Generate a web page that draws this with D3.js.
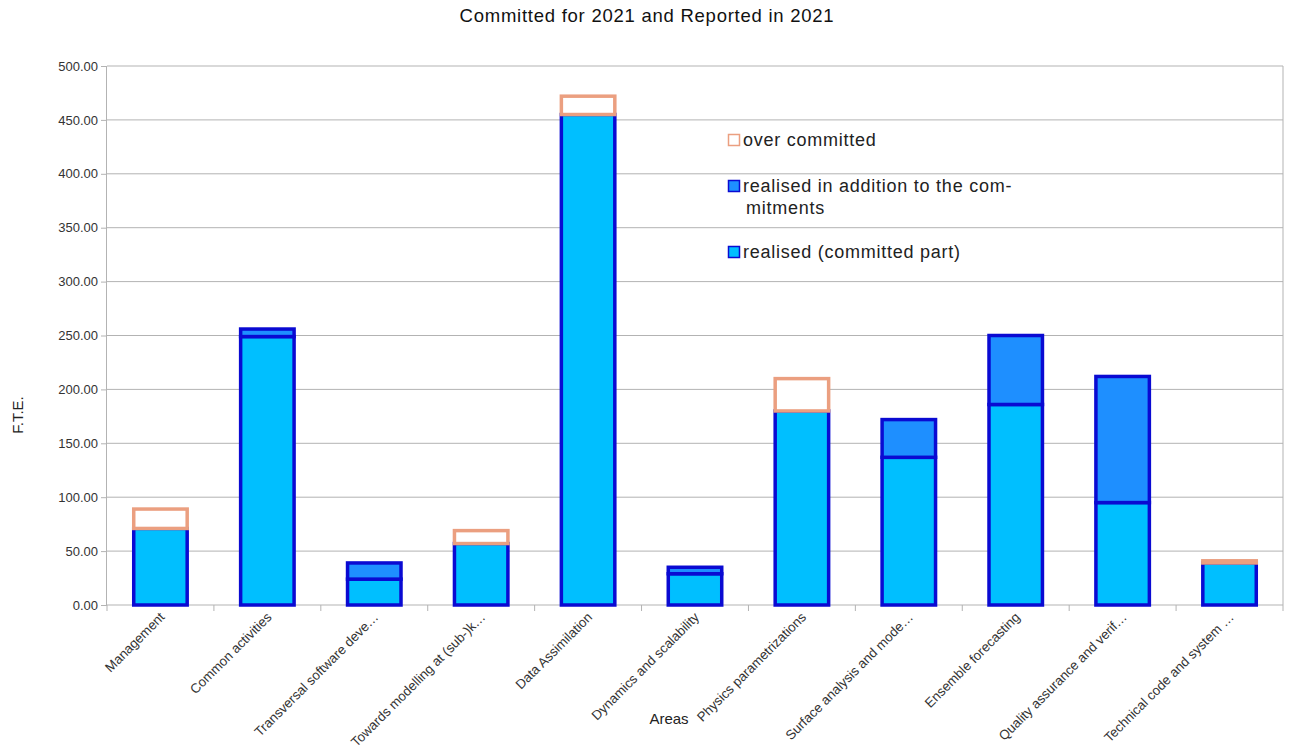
<!DOCTYPE html>
<html><head><meta charset="utf-8">
<script src="https://cdn.jsdelivr.net/npm/d3@7"></script>
<style>body{margin:0;background:#fff}svg{display:block;font-family:"Liberation Sans",Arial,sans-serif}</style>
</head><body><svg id="c" width="1292" height="749"></svg>
<script>
const categories = ["Management","Common activities","Transversal software deve\u2026","Towards modelling at (sub-)k\u2026","Data Assimilation","Dynamics and scalability","Physics parametrizations","Surface analysis and mode\u2026","Ensemble forecasting","Quality assurance and verif\u2026","Technical code and system \u2026"];
const realised = [71, 249, 24, 57, 455, 29, 180, 137, 186, 95, 39];
const addition = [0, 7, 15, 0, 0, 6, 0, 35, 64, 117, 0];
const overCommitted = [18, 0, 0, 12, 17, 0, 30, 0, 0, 0, 2];
const yTicks = [0,50,100,150,200,250,300,350,400,450,500];
const seriesNames = ["realised (committed part)","realised in addition to the com-\nmitments","over committed"];

const svg = d3.select("#c");
const m = {l:107, r:9, t:66, b:144};
const W = 1292, H = 749;
const x = d3.scaleBand().domain(categories).range([m.l, W-m.r]).paddingInner(0.5).paddingOuter(0.25);
const y = d3.scaleLinear().domain([0,500]).range([H-m.b, m.t]);

// grid
svg.append("g").selectAll("line").data(yTicks).join("line")
  .attr("x1", m.l).attr("x2", W-m.r).attr("y1", d=>y(d)).attr("y2", d=>y(d))
  .attr("stroke","#b3b3b3").attr("stroke-width",1);
svg.append("line").attr("x1",W-m.r).attr("x2",W-m.r).attr("y1",m.t).attr("y2",H-m.b).attr("stroke","#b3b3b3");

// y axis
const ya = svg.append("g").attr("transform",`translate(${m.l},0)`)
  .call(d3.axisLeft(y).tickValues(yTicks).tickFormat(d3.format(".2f")).tickSize(6).tickPadding(3));
ya.select(".domain").attr("stroke","#b3b3b3").attr("d",`M-0.5,${m.t}V${H-m.b}`);
ya.selectAll(".tick line").attr("stroke","#b3b3b3");
ya.selectAll("text").attr("font-size",13).attr("fill","#333").attr("font-family","Liberation Sans, Arial, sans-serif");

// x axis
const bounds = d3.range(categories.length+1).map(i => m.l + i*(W-m.l-m.r)/categories.length);
svg.append("g").selectAll("line").data(bounds).join("line")
  .attr("x1",d=>d).attr("x2",d=>d).attr("y1",H-m.b).attr("y2",H-m.b+6).attr("stroke","#b3b3b3");

// bars
const data = categories.map((c,i)=>({cat:c, r:realised[i], a:addition[i], o:overCommitted[i]}));
const g = svg.append("g");
data.forEach(d=>{
  const x0 = x(d.cat), bw = x.bandwidth();
  g.append("rect").attr("x",x0).attr("width",bw).attr("y",y(d.r)).attr("height",y(0)-y(d.r))
    .attr("fill","#00bfff").attr("stroke","#0a0ad2").attr("stroke-width",3.5);
  if(d.a>0) g.append("rect").attr("x",x0).attr("width",bw).attr("y",y(d.r+d.a)).attr("height",y(d.r)-y(d.r+d.a))
    .attr("fill","#1e8fff").attr("stroke","#0a0ad2").attr("stroke-width",3.5);
  if(d.o>0) g.append("rect").attr("x",x0).attr("width",bw).attr("y",y(d.r+d.o)).attr("height",y(d.r)-y(d.r+d.o))
    .attr("fill","#ffffff").attr("stroke","#eb9f80").attr("stroke-width",3.5);
});

// x labels
svg.append("g").selectAll("text").data(categories).join("text")
  .attr("transform",d=>`translate(${x(d)+x.bandwidth()/2+5},${H-m.b+13}) rotate(-45)`)
  .attr("text-anchor","end").attr("font-size",13.3).attr("fill","#333").text(d=>d);

// title and axis titles
svg.append("text").attr("x",647).attr("y",22).attr("text-anchor","middle").attr("font-size",18.5)
  .attr("letter-spacing",0.75).attr("fill","#111").text("Committed for 2021 and Reported in 2021");
svg.append("text").attr("x",669).attr("y",724).attr("text-anchor","middle").attr("font-size",15).attr("fill","#222").text("Areas");
svg.append("text").attr("transform","translate(23,415) rotate(-90)").attr("text-anchor","middle").attr("font-size",15).attr("fill","#222").text("F.T.E.");

// legend
const leg = [
  {name:seriesNames[2], fill:"#fff", stroke:"#eb9f80", y:140},
  {name:seriesNames[1], fill:"#1e8fff", stroke:"#0a0ad2", y:186},
  {name:seriesNames[0], fill:"#00bfff", stroke:"#0a0ad2", y:252}
];
const lg = svg.append("g");
leg.forEach(l=>{
  lg.append("rect").attr("x",728.5).attr("y",l.y-5.5).attr("width",11).attr("height",11)
    .attr("fill",l.fill).attr("stroke",l.stroke).attr("stroke-width",1.5);
  const t = lg.append("text").attr("x",743).attr("y",l.y+6).attr("font-size",18).attr("letter-spacing",0.75).attr("fill","#222");
  l.name.split("\n").forEach((s,i)=>t.append("tspan").attr("x",i?746:743).attr("dy",i?22:0).text(s));
});
</script></body></html>
